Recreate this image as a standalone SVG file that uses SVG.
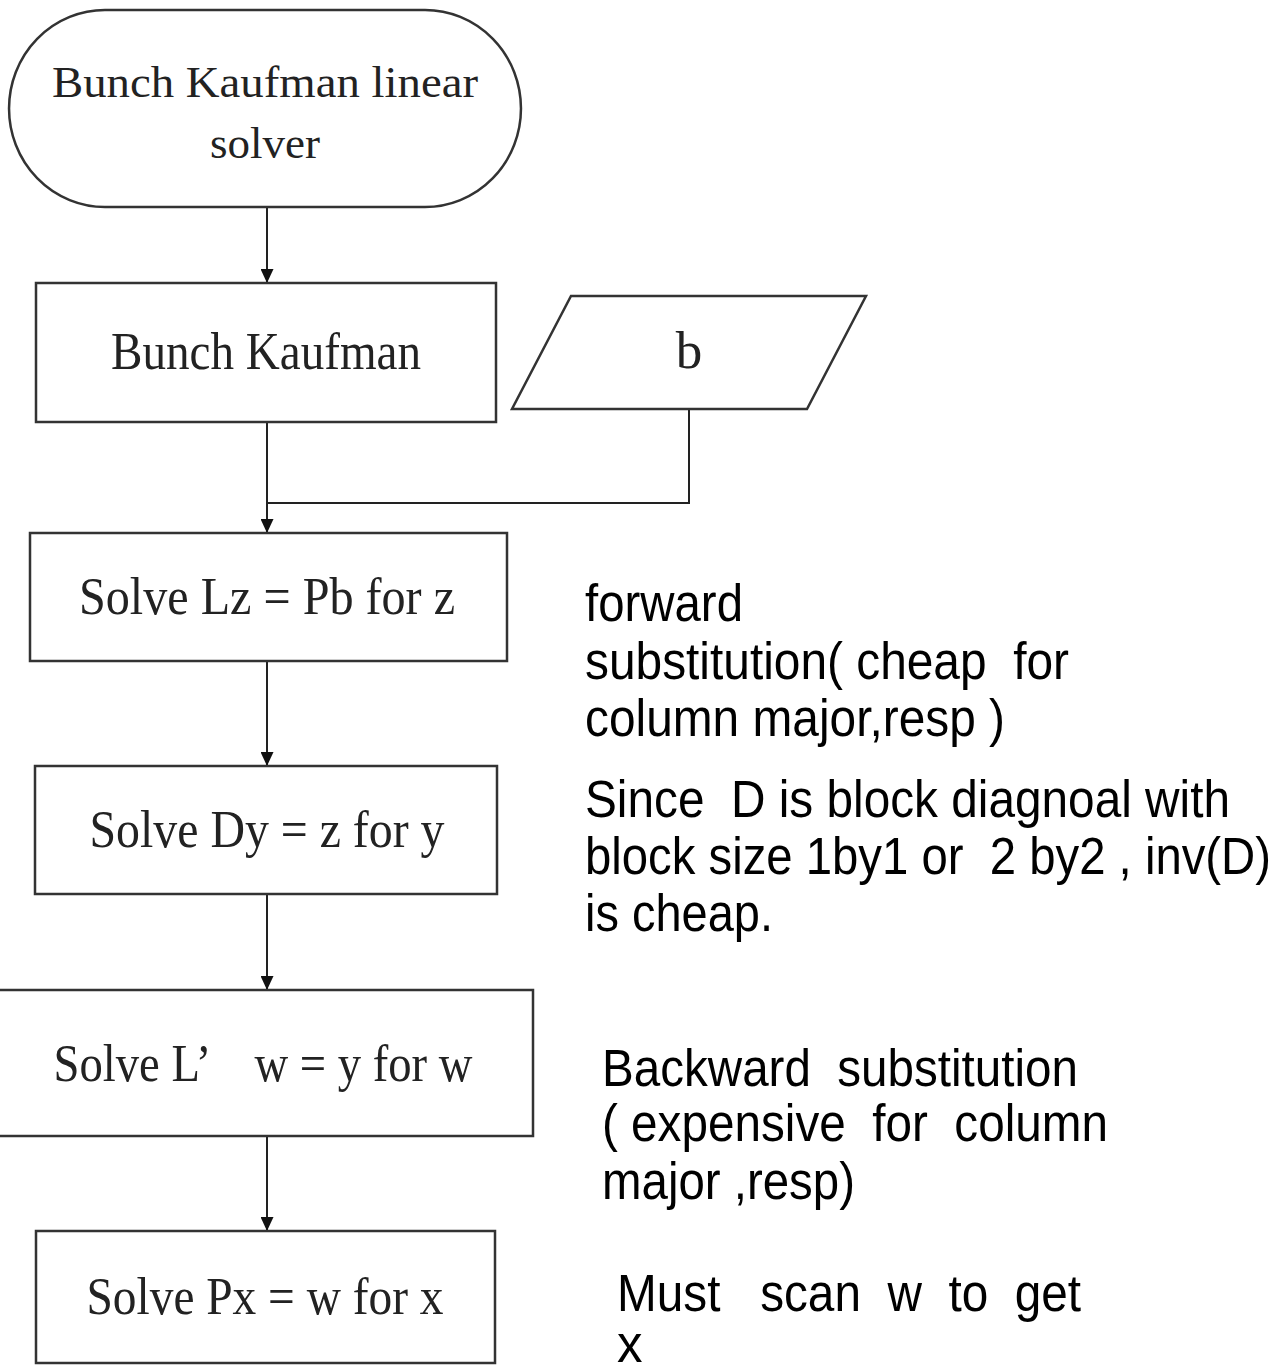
<svg xmlns="http://www.w3.org/2000/svg" width="1284" height="1369" viewBox="0 0 1284 1369">
<style>
.shape{fill:#fff;stroke:#333;stroke-width:2.5}
.serif{font-family:"Liberation Serif","Times New Roman",serif;fill:#222;text-anchor:middle}
.sans{font-family:"Liberation Sans",Arial,sans-serif;font-size:51px;fill:#000}
.conn{fill:none;stroke:#222;stroke-width:2}
</style>
<defs>
<marker id="arr" viewBox="0 0 14 13" refX="14" refY="6.5" markerWidth="14" markerHeight="13" markerUnits="userSpaceOnUse" orient="auto">
<path d="M0,0 L14,6.5 L0,13 Z" fill="#111"/>
</marker>
</defs>
<rect width="1284" height="1369" fill="#fff"/>
<g id="connectors">
<line class="conn" x1="267" y1="207" x2="267" y2="283" marker-end="url(#arr)"/>
<line class="conn" x1="267" y1="422" x2="267" y2="533" marker-end="url(#arr)"/>
<polyline class="conn" points="689,409 689,503 267,503"/>
<line class="conn" x1="267" y1="661" x2="267" y2="766" marker-end="url(#arr)"/>
<line class="conn" x1="267" y1="894" x2="267" y2="990" marker-end="url(#arr)"/>
<line class="conn" x1="267" y1="1136" x2="267" y2="1231" marker-end="url(#arr)"/>
</g>
<g id="start">
<path class="shape" d="M105,10 H425 A96,98.5 0 0 1 425,207 H105 A96,98.5 0 0 1 105,10 Z"/>
<text class="serif" x="265" y="97" font-size="45" textLength="426" lengthAdjust="spacingAndGlyphs">Bunch Kaufman linear</text>
<text class="serif" x="265" y="158" font-size="45">solver</text>
</g>
<g id="bk">
<rect class="shape" x="36" y="283" width="460" height="139"/>
<text class="serif" x="266" y="369" font-size="53" textLength="310" lengthAdjust="spacingAndGlyphs">Bunch Kaufman</text>
</g>
<g id="input-b">
<polygon class="shape" points="571,296 866,296 807,409 512,409"/>
<text class="serif" x="689" y="368" font-size="53">b</text>
</g>
<g id="solve-lz">
<rect class="shape" x="30" y="533" width="477" height="128"/>
<text class="serif" x="267" y="614" font-size="53" textLength="376" lengthAdjust="spacingAndGlyphs">Solve Lz = Pb for z</text>
</g>
<g id="solve-dy">
<rect class="shape" x="35" y="766" width="462" height="128"/>
<text class="serif" x="267" y="847" font-size="53" textLength="355" lengthAdjust="spacingAndGlyphs">Solve Dy = z for y</text>
</g>
<g id="solve-lw">
<rect class="shape" x="-2" y="990" width="535" height="146"/>
<text class="serif" x="263" y="1081" font-size="53" textLength="419" lengthAdjust="spacingAndGlyphs" xml:space="preserve">Solve L’　w = y for w</text>
</g>
<g id="solve-px">
<rect class="shape" x="36" y="1231" width="459" height="132"/>
<text class="serif" x="265" y="1314" font-size="53" textLength="357" lengthAdjust="spacingAndGlyphs">Solve Px = w for x</text>
</g>
<g id="notes">
<text class="sans" x="585" y="621" textLength="158" lengthAdjust="spacingAndGlyphs">forward</text>
<text class="sans" x="585" y="679" xml:space="preserve" textLength="484" lengthAdjust="spacingAndGlyphs">substitution( cheap  for</text>
<text class="sans" x="585" y="736" textLength="420" lengthAdjust="spacingAndGlyphs">column major,resp )</text>
<text class="sans" x="585" y="817" xml:space="preserve" textLength="645" lengthAdjust="spacingAndGlyphs">Since  D is block diagnoal with</text>
<text class="sans" x="585" y="874" xml:space="preserve" textLength="686" lengthAdjust="spacingAndGlyphs">block size 1by1 or  2 by2 , inv(D)</text>
<text class="sans" x="585" y="931" textLength="188" lengthAdjust="spacingAndGlyphs">is cheap.</text>
<text class="sans" x="602" y="1086" xml:space="preserve" textLength="476" lengthAdjust="spacingAndGlyphs">Backward  substitution</text>
<text class="sans" x="602" y="1141" xml:space="preserve" textLength="506" lengthAdjust="spacingAndGlyphs">( expensive  for  column</text>
<text class="sans" x="602" y="1199" textLength="253" lengthAdjust="spacingAndGlyphs">major ,resp)</text>
<text class="sans" x="617" y="1311" xml:space="preserve" textLength="464" lengthAdjust="spacingAndGlyphs">Must   scan  w  to  get</text>
<text class="sans" x="617" y="1362">x</text>
</g>
</svg>
